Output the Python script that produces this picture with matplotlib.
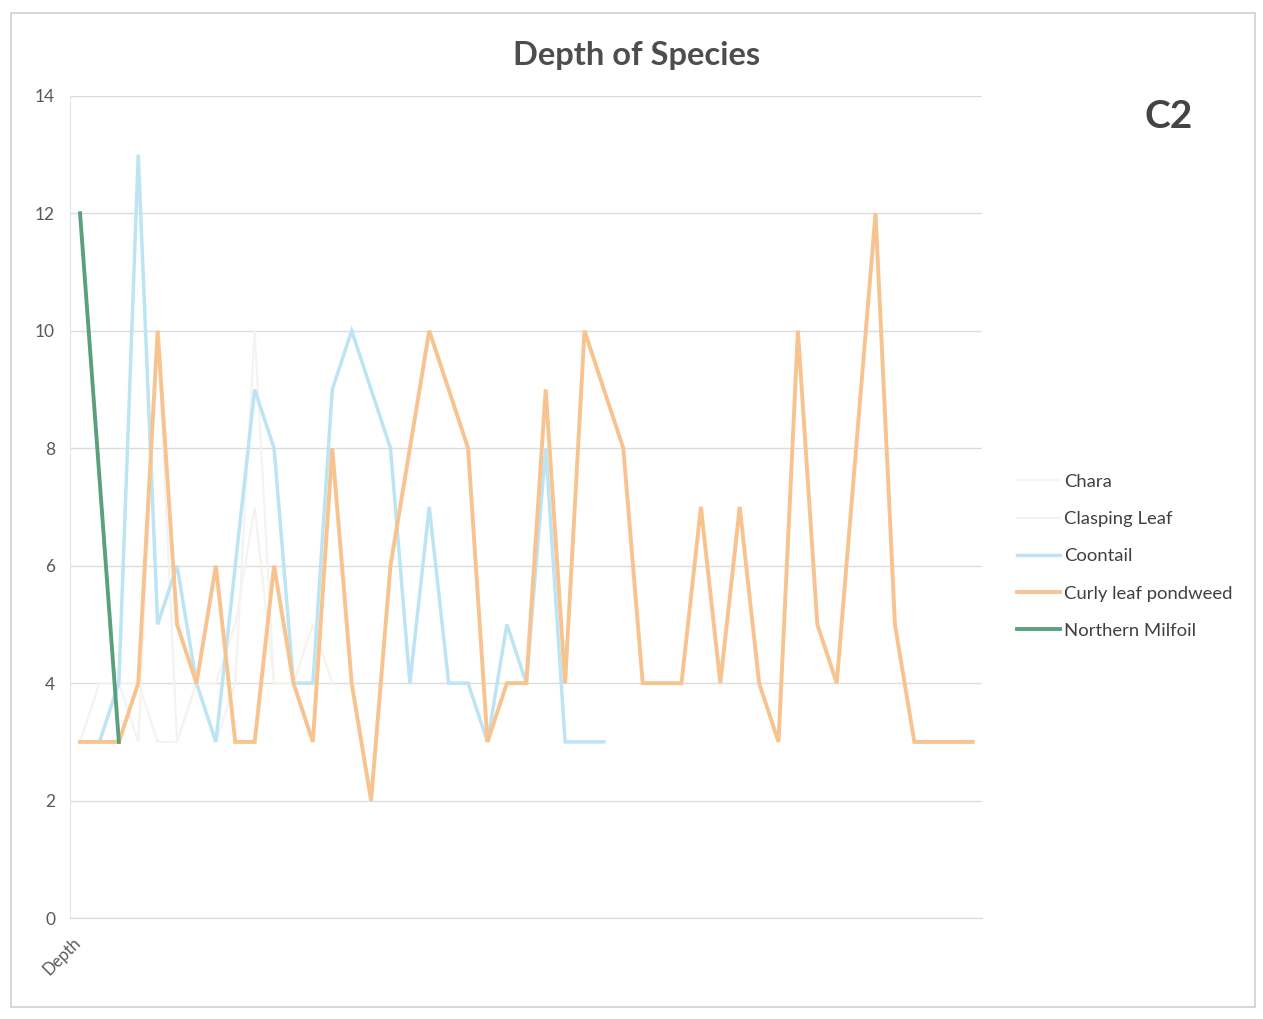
import numpy as np
import matplotlib
matplotlib.use('Agg')
import matplotlib.pyplot as plt
import matplotlib.transforms as mtransforms
from matplotlib.patches import Rectangle

plt.rcParams['font.family'] = ['Lato', 'DejaVu Sans']

nan = np.nan

# depth readings, one per sample point
n_points = 47
categories = ['Depth'] + [''] * (n_points - 1)

chara = [3, 4, 4, 3, 10, 3, 4, 3, 4, 10, 4, 4]
clasping_leaf = [nan, 3, 4, 4, 3, 3, 4, 4, 5, 7, 4, 4, 5, 4]
coontail = [nan, 3, 4, 13, 5, 6, 4, 3, 6, 9, 8, 4, 4, 9, 10, 9, 8, 4, 7, 4,
            4, 3, 5, 4, 8, 3, 3, 3]
curly_leaf = [3, 3, 3, 4, 10, 5, 4, 6, 3, 3, 6, 4, 3, 8, 4, 2, 6, 8, 10, 9,
              8, 3, 4, 4, 9, 4, 10, 9, 8, 4, 4, 4, 7, 4, 7, 4, 3, 10, 5, 4,
              8, 12, 5, 3, 3, 3, 3]
northern_milfoil = [12, nan, 3]

series = [
    ('Chara', chara, '#f3f3f3', 1.5),
    ('Clasping Leaf', clasping_leaf, '#f7f3ec', 1.5),
    ('Coontail', coontail, '#bde4f2', 2.5),
    ('Curly leaf pondweed', curly_leaf, '#f7c38f', 2.8),
    ('Northern Milfoil', northern_milfoil, '#5aa07c', 2.8),
]

fig = plt.figure(figsize=(12.63, 10.19), dpi=100)
ax = fig.add_axes([0.0557, 0.099, 0.722, 0.807])

x = np.arange(1, n_points + 1)
for name, vals, col, lw in series:
    v = np.array(vals, dtype=float)
    xs = x[:len(v)]
    ok = ~np.isnan(v)
    # gaps are bridged, the line just joins the next reading
    ax.plot(xs[ok], v[ok], color=col, lw=lw, label=name, solid_joinstyle='miter')

ax.set_xlim(0.5, n_points + 0.5)
ax.set_ylim(0, 14)
ax.set_yticks(np.arange(0, 15, 2))
ax.set_xticks(x)
ax.set_xticklabels(categories, rotation=45, ha='right', va='top',
                   rotation_mode='anchor', fontsize=12, color='#595959')
ax.tick_params(axis='x', length=0, pad=12)
ax.tick_params(axis='y', length=0, pad=11, labelsize=12.5, labelcolor='#595959')
shift = mtransforms.ScaledTranslation(-8 / 100, 0, fig.dpi_scale_trans)
for lab in ax.get_xticklabels():
    lab.set_transform(lab.get_transform() + shift)
ax.grid(axis='y', color='#dcdcdc', lw=1)
ax.set_axisbelow(True)
for s in ['top', 'right']:
    ax.spines[s].set_visible(False)
ax.spines['left'].set_color('#e4e4e4')
ax.spines['bottom'].set_color('#d9d9d9')

fig.text(0.504, 0.946, 'Depth of Species', ha='center', va='center',
         fontsize=23.5, fontweight='bold', color='#4d4d4d')
fig.text(0.925, 0.886, 'C2', ha='center', va='center',
         fontsize=28, fontweight='bold', color='#444444')

leg = ax.legend(loc='center left', bbox_to_anchor=(1.02, 0.44), frameon=False,
                fontsize=13.3, handlelength=2.3, handletextpad=0.25,
                labelspacing=1.15, labelcolor='#404040')

# frame of the chart area
fig.patches.append(Rectangle((0.009, 0.012), 0.985, 0.975, transform=fig.transFigure,
                             fill=False, edgecolor='#cfcfcf', lw=1.2))

fig.savefig('out.png', dpi=100, facecolor='white')
